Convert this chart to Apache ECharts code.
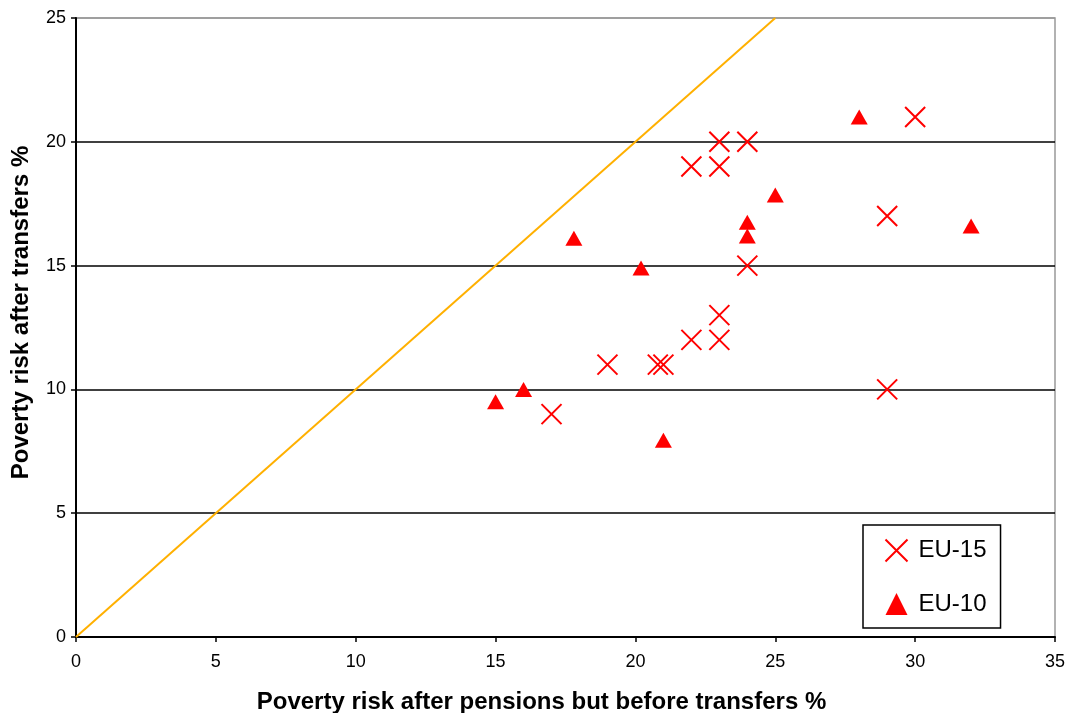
<!DOCTYPE html>
<html><head><meta charset="utf-8">
<script src="https://cdn.jsdelivr.net/npm/echarts@6/dist/echarts.min.js"></script>
<style>html,body{margin:0;padding:0;background:#fff}#c{width:1068px;height:713px}</style>
</head><body><div id="c"></div>
<script>
const eu15 = [[30,21],[23,20],[24,20],[22,19],[23,19],[29,17],[24,15],[23,13],[22,12],[23,12],[19,11],[20.8,11],[21,11],[17,9],[29,10]];
const eu10 = [[28,21],[25,17.85],[24,16.75],[24,16.2],[17.8,16.1],[20.2,14.9],[32,16.6],[15,9.5],[16,10],[21,7.95]];
const diagonal = [[0,0],[25,25]];
const seriesNames = ['EU-15','EU-10'];
const xTitle = 'Poverty risk after pensions but before transfers %';
const yTitle = 'Poverty risk after transfers %';

const FONT = '"Liberation Sans", Arial, sans-serif';
const cross = 'path://M0,0L10,10M10,0L0,10';
const chart = echarts.init(document.getElementById('c'));
chart.setOption({
  animation:false,
  backgroundColor:'#fff',
  grid:{left:76,right:13,top:18,bottom:76,show:true,borderColor:'#999',borderWidth:1.5,
        containLabel:false,outerBoundsMode:'none'},
  xAxis:{type:'value',min:0,max:35,interval:5,
    name:xTitle,nameLocation:'middle',nameGap:53,
    nameTextStyle:{fontFamily:FONT,fontSize:24,fontWeight:'bold',color:'#000',padding:[0,48,0,0]},
    axisLine:{onZero:false,lineStyle:{color:'#000',width:2}},
    axisTick:{show:true,length:5,lineStyle:{color:'#000',width:1.5}},
    axisLabel:{fontFamily:FONT,fontSize:18,color:'#000',margin:16},
    splitLine:{show:false}},
  yAxis:{type:'value',min:0,max:25,interval:5,
    name:yTitle,nameLocation:'middle',nameGap:43,
    nameTextStyle:{fontFamily:FONT,fontSize:24,fontWeight:'bold',color:'#000',padding:[0,0,0,30]},
    axisLine:{onZero:false,lineStyle:{color:'#000',width:2}},
    axisTick:{show:true,length:5,lineStyle:{color:'#000',width:1.5}},
    axisLabel:{fontFamily:FONT,fontSize:18,color:'#000',margin:10},
    splitLine:{show:true,lineStyle:{color:['#000','#000','#000','#000','#000','#999'],width:1.5}}},
  legend:{orient:'vertical',left:863,top:525,
    padding:[12,14,12,20],itemGap:28,itemWidth:22,itemHeight:22,
    borderColor:'#000',borderWidth:1.5,backgroundColor:'#fff',
    textStyle:{fontFamily:FONT,fontSize:24,color:'#000',padding:[0,0,0,6]},
    data:[{name:seriesNames[0],icon:cross,itemStyle:{color:'none',borderColor:'#ff0000',borderWidth:2}},
          {name:seriesNames[1],icon:'triangle',itemStyle:{color:'#ff0000'}}]},
  series:[
    {type:'line',data:diagonal,symbol:'none',silent:true,
     lineStyle:{color:'#ffb000',width:2},z:1},
    {name:seriesNames[0],type:'scatter',data:eu15,symbol:cross,symbolSize:20,
     itemStyle:{color:'none',borderColor:'#ff0000',borderWidth:2,opacity:1},z:3},
    {name:seriesNames[1],type:'scatter',data:eu10,symbol:'triangle',symbolSize:[17,15],
     itemStyle:{color:'#ff0000',opacity:1},z:3}
  ]
});
</script></body></html>
